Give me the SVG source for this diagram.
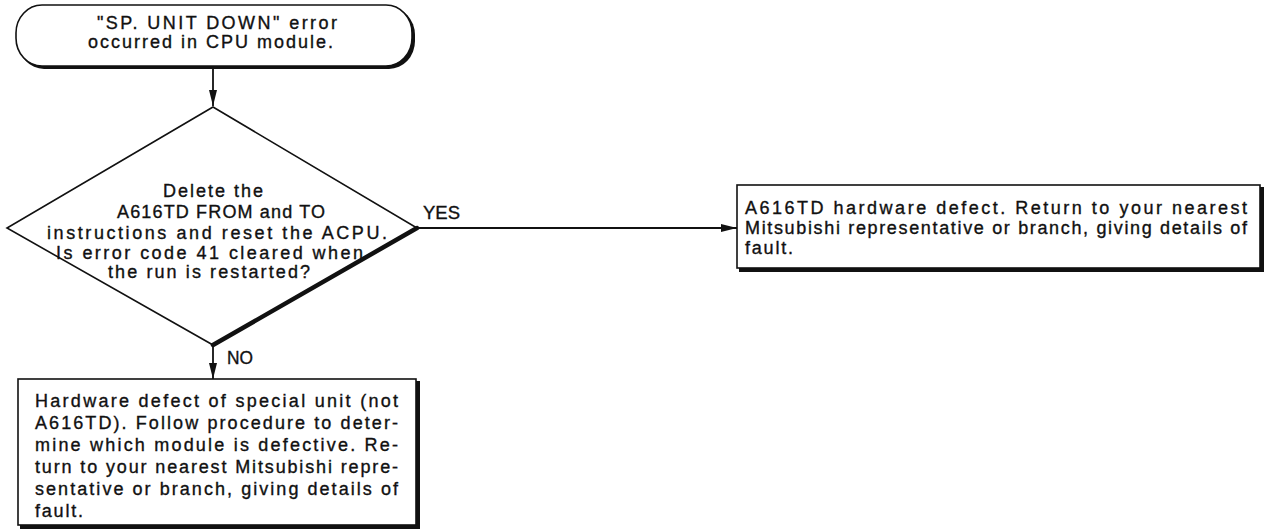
<svg xmlns="http://www.w3.org/2000/svg" width="1265" height="530" viewBox="0 0 1265 530">
<defs>
<style>
.t{font-family:"Liberation Sans",Arial,sans-serif;font-size:18px;fill:#111;stroke:#111;stroke-width:0.35;}
.sh{fill:#111;stroke:none;}
.bx{fill:#fff;stroke:#111;stroke-width:1.6;}
.ln{stroke:#111;stroke-width:1.8;fill:none;}
</style>
<marker id="ah" viewBox="0 0 16 8" refX="16" refY="4" markerWidth="16" markerHeight="8" markerUnits="userSpaceOnUse" orient="auto">
<path d="M0,0 L16,4 L0,8 Z" fill="#111"/>
</marker>
</defs>
<rect width="1265" height="530" fill="#fff"/>
<g id="connectors">
<line class="ln" x1="213" y1="67" x2="213" y2="106" marker-end="url(#ah)"/>
<line class="ln" x1="417" y1="228" x2="737" y2="228" marker-end="url(#ah)"/>
<line class="ln" x1="213" y1="345" x2="213" y2="379" marker-end="url(#ah)"/>
<text class="t" x="423" y="219" textLength="37" lengthAdjust="spacingAndGlyphs">YES</text>
<text class="t" x="227" y="364" textLength="26" lengthAdjust="spacingAndGlyphs">NO</text>
</g>
<g id="start">
<rect class="sh" x="18" y="7" width="397" height="62" rx="26" ry="28"/>
<rect class="bx" x="16" y="5" width="396" height="61" rx="26" ry="28"/>
<text class="t" x="97" y="29" textLength="240" lengthAdjust="spacing">"SP. UNIT DOWN" error</text>
<text class="t" x="88" y="48" textLength="245" lengthAdjust="spacing">occurred in CPU module.</text>
</g>
<g id="decision">
<polygon class="bx" points="213,107 417,228 213,345 7,228"/>
<line x1="417" y1="228" x2="213" y2="345" stroke="#111" stroke-width="4.5" stroke-linecap="round"/>
<text class="t" x="163" y="197" textLength="100" lengthAdjust="spacing">Delete the</text>
<text class="t" x="117" y="218" textLength="208" lengthAdjust="spacing">A616TD FROM and TO</text>
<text class="t" x="47" y="239" textLength="340" lengthAdjust="spacing">instructions and reset the ACPU.</text>
<text class="t" x="56" y="259" textLength="307" lengthAdjust="spacing">Is error code 41 cleared when</text>
<text class="t" x="108" y="278" textLength="202" lengthAdjust="spacing">the run is restarted?</text>
</g>
<g id="yes-box">
<rect class="sh" x="739" y="187" width="525" height="85"/>
<rect class="bx" x="737" y="185" width="523" height="83"/>
<text class="t" x="745" y="214" textLength="502" lengthAdjust="spacing">A616TD hardware defect. Return to your nearest</text>
<text class="t" x="745" y="234" textLength="502" lengthAdjust="spacing">Mitsubishi representative or branch, giving details of</text>
<text class="t" x="745" y="254" textLength="48" lengthAdjust="spacing">fault.</text>
</g>
<g id="no-box">
<rect class="sh" x="20" y="381" width="400" height="148"/>
<rect class="bx" x="18" y="379" width="398" height="146"/>
<text class="t" x="35" y="407" textLength="363" lengthAdjust="spacing">Hardware defect of special unit (not</text>
<text class="t" x="35" y="429" textLength="363" lengthAdjust="spacing">A616TD). Follow procedure to deter-</text>
<text class="t" x="35" y="451" textLength="363" lengthAdjust="spacing">mine which module is defective. Re-</text>
<text class="t" x="35" y="473" textLength="363" lengthAdjust="spacing">turn to your nearest Mitsubishi repre-</text>
<text class="t" x="35" y="495" textLength="363" lengthAdjust="spacing">sentative or branch, giving details of</text>
<text class="t" x="35" y="517" textLength="48" lengthAdjust="spacing">fault.</text>
</g>
</svg>
